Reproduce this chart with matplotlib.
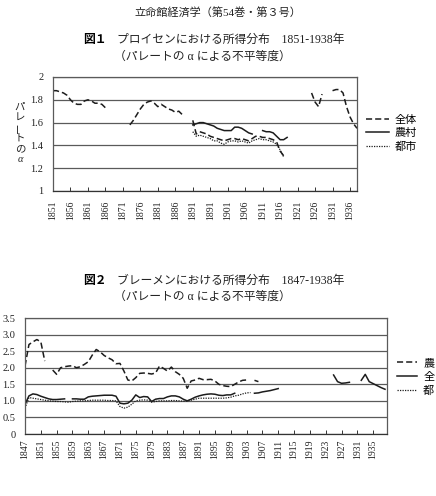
import numpy as np
import matplotlib
matplotlib.use("Agg")
import matplotlib.pyplot as plt

plt.rcParams["font.family"] = ["Liberation Serif", "Noto Sans CJK JP"]

nan = np.nan
W, H = 436, 496

# --- 図1 プロイセン (1851-1938) ---
prussiaTicks = ["1851", "1856", "1861", "1866", "1871", "1876", "1881", "1886", "1891",
                "1891", "1901", "1906", "1911", "1916", "1921", "1926", "1931", "1936"]
prussiaYTicks = [1, 1.2, 1.4, 1.6, 1.8, 2]
prussiaYLabels = ["1", "1.2", "1.4", "1.6", "1.8", "2"]

# 全体, from 1851
prussiaAllStart = 1851
prussiaAll = [1.88, 1.88, 1.87, 1.86, 1.84, 1.80, 1.77, 1.76, 1.76, 1.79,   # 1851-1860
              1.80, 1.79, 1.77, 1.77, 1.76, 1.73, nan, nan, nan, nan,        # 1861-1870
              nan, nan, 1.58, 1.62, 1.67, 1.72, 1.76, 1.78, 1.79, 1.77,      # 1871-1880
              1.74, 1.76, 1.74, 1.72, 1.71, 1.69, 1.70, 1.67, nan, nan,      # 1881-1890
              1.62, 1.50, 1.52, 1.51, 1.50, 1.48, 1.47, 1.46, 1.45, 1.44,    # 1891-1900
              1.45, 1.46, 1.46, 1.45, 1.46, 1.45, 1.44, 1.46, 1.48, 1.48,    # 1901-1910
              1.47, 1.47, 1.46, 1.45, 1.43, 1.35, 1.31, nan, nan, nan,       # 1911-1920
              nan, nan, nan, nan, 1.86, 1.78, 1.74, 1.85, nan, nan,          # 1921-1930
              1.88, 1.89, 1.89, 1.86, 1.74, 1.65, 1.59, 1.55]                # 1931-1938

# 農村, from 1891
prussiaRuralStart = 1891
prussiaRural = [1.58, 1.59, 1.60, 1.60, 1.59, 1.58, 1.57, 1.55, 1.54, 1.53,
                1.53, 1.53, 1.56, 1.56, 1.55, 1.53, 1.51, 1.50, nan, nan,
                1.53, 1.52, 1.52, 1.51, 1.48, 1.45, 1.45, 1.47]

# 都市, from 1891
prussiaUrbanStart = 1891
prussiaUrban = [1.52, 1.48, 1.49, 1.48, 1.47, 1.46, 1.44, 1.44, 1.42, 1.41,
                1.43, 1.44, 1.44, 1.43, 1.44, 1.43, 1.42, 1.44, 1.45, 1.46,
                1.45, 1.45, 1.44, 1.43, 1.41, 1.36, 1.30]

# --- 図2 ブレーメン (1847-1938) ---
bremenTicks = ["1847", "1851", "1855", "1859", "1863", "1867", "1871", "1875", "1879",
               "1883", "1887", "1891", "1895", "1899", "1903", "1907", "1911", "1915",
               "1919", "1923", "1927", "1931", "1935"]
bremenYTicks = [0, 0.5, 1.0, 1.5, 2.0, 2.5, 3.0, 3.5]
bremenYLabels = ["0", "0.5", "1.0", "1.5", "2.0", "2.5", "3.0", "3.5"]

# dashed (農), from 1847
bremenDashStart = 1847
bremenDash = [2.05, 2.70, 2.78, 2.85, 2.78, 2.20, nan, 1.93, 1.80, 2.00,    # 1847-1856
              2.03, 2.05, 2.06, 2.00, 2.03, 2.10, 2.18, 2.38, 2.55, 2.48,   # 1857-1866
              2.37, 2.30, 2.24, 2.12, 2.13, 1.90, 1.63, 1.60, 1.70, 1.83,   # 1867-1876
              1.84, 1.83, 1.81, 1.84, 2.05, 1.98, 1.90, 2.02, 1.88, 1.80,   # 1877-1886
              1.68, 1.38, 1.60, 1.63, 1.68, 1.64, 1.64, 1.65, 1.60, 1.50,   # 1887-1896
              1.46, 1.44, 1.43, 1.50, 1.57, 1.62, 1.63, nan, 1.62, 1.58]    # 1897-1906

# solid (全), from 1847
bremenSolidStart = 1847
bremenSolid = [0.90, 1.15, 1.21, 1.19, 1.14, 1.10, 1.06, 1.04, 1.04, 1.05,  # 1847-1856
               1.06, nan, 1.06, 1.06, 1.05, 1.05, 1.12, 1.14, 1.15, 1.16,   # 1857-1866
               1.17, 1.17, 1.17, 1.14, 0.93, 0.91, 0.93, 1.02, 1.18, 1.10,  # 1867-1876
               1.13, 1.12, 0.98, 1.05, 1.07, 1.07, 1.12, 1.15, 1.15, 1.12,  # 1877-1886
               1.05, 1.00, 1.05, 1.11, 1.15, 1.18, 1.20, 1.21, 1.20, 1.17,  # 1887-1896
               1.16, 1.18, 1.18, 1.23, nan, nan, nan, nan, 1.23, 1.24,      # 1897-1906
               1.27, 1.29, 1.31, 1.34, 1.37, nan, nan, nan, nan, nan,       # 1907-1916
               nan, nan, nan, nan, nan, nan, nan, nan, 1.78, 1.58,          # 1917-1926
               1.53, 1.54, 1.56, nan, nan, 1.62, 1.80, 1.58, 1.52, 1.46,    # 1927-1936
               1.40, 1.35]                                                 # 1937-1938

# dotted (都), from 1847
bremenDotStart = 1847
bremenDot = [0.78, 1.10, 1.08, 1.06, 1.04, 1.02, 1.00, 0.99, 0.98, 0.98,    # 1847-1856
             0.97, 0.96, 0.98, 0.99, 1.00, 1.00, 1.01, 1.02, 1.02, 1.02,    # 1857-1866
             1.02, 1.01, 1.01, 1.00, 0.83, 0.78, 0.81, 0.90, 1.00, 1.02,    # 1867-1876
             1.03, 1.02, 0.96, 0.98, 1.00, 1.00, 1.00, 1.01, 1.01, 1.00,    # 1877-1886
             0.99, 1.00, 1.02, 1.05, 1.08, 1.08, 1.08, 1.08, 1.08, 1.08,    # 1887-1896
             1.08, 1.09, 1.11, 1.15, 1.17, 1.21, 1.24, 1.25]                # 1897-1904

LINE = "#1c1c1c"
GRID = "#5a5a5a"
DASH = (0, (4, 2))
DOT = (0, (1, 1))


def years(start, values):
    return np.arange(start, start + len(values))


def fx(x):
    return x / W


def fy(y):
    return 1 - y / H


def styleAxes(ax, yticks, ylabels, xstart, xstep, xlabels):
    ax.set_yticks(yticks)
    ax.set_yticklabels(ylabels)
    ax.set_xticks([xstart + xstep * i for i in range(len(xlabels))])
    ax.set_xticklabels(xlabels)
    ax.yaxis.grid(True, color=GRID, lw=0.9)
    ax.set_axisbelow(True)
    for s in ax.spines.values():
        s.set_color(GRID)
        s.set_linewidth(0.9)
    ax.spines["bottom"].set_color("#333333")
    ax.tick_params(axis="y", length=0, labelsize=7.5, pad=7, colors="#222222")
    ax.tick_params(axis="x", direction="in", length=3, width=0.7, color="#333333",
                   labelrotation=90, labelsize=7, labelcolor="#222222")


fig = plt.figure(figsize=(W / 100, H / 100), dpi=100)

# header + titles
fig.text(fx(218), fy(12), "立命館経済学（第54巻・第３号）", ha="center", va="center",
         fontsize=8, color="#222222")
fig.text(fx(83), fy(40), "図１", ha="left", va="center", fontsize=8.5, fontweight="bold")
fig.text(fx(117), fy(40), "プロイセンにおける所得分布　1851-1938年", ha="left", va="center",
         fontsize=8.5, color="#222222")
fig.text(fx(114), fy(57), "（パレートの α による不平等度）", ha="left", va="center",
         fontsize=8.5, color="#222222")
fig.text(fx(83), fy(281), "図２", ha="left", va="center", fontsize=8.5, fontweight="bold")
fig.text(fx(117), fy(281), "ブレーメンにおける所得分布　1847-1938年", ha="left", va="center",
         fontsize=8.5, color="#222222")
fig.text(fx(114), fy(297), "（パレートの α による不平等度）", ha="left", va="center",
         fontsize=8.5, color="#222222")

# chart 1
ax1 = fig.add_axes([fx(53), fy(191), 304 / W, 114 / H])
ax1.plot(years(prussiaAllStart, prussiaAll), prussiaAll, color=LINE, lw=1.1,
         linestyle=DASH, label="全体")
ax1.plot(years(prussiaRuralStart, prussiaRural), prussiaRural, color=LINE, lw=1.1,
         label="農村")
ax1.plot(years(prussiaUrbanStart, prussiaUrban), prussiaUrban, color=LINE, lw=0.9,
         linestyle=DOT, label="都市")
ax1.set_xlim(1851, 1938)
ax1.set_ylim(1, 2)
styleAxes(ax1, prussiaYTicks, prussiaYLabels, 1851, 5, prussiaTicks)
ax1.tick_params(axis="x", pad=7)
ax1.legend(loc="center left", bbox_to_anchor=(fx(366), fy(133)), bbox_transform=fig.transFigure,
           frameon=False, fontsize=8, handlelength=2.1, handletextpad=0.45,
           labelspacing=0.3, borderpad=0, borderaxespad=0)

# vertical y label
yChars = ["パ", "レ", "ー", "ト", "の", "α"]
for i, ch in enumerate(yChars):
    fig.text(fx(20), fy(107 + 10.5 * i), ch, ha="center", va="center", fontsize=7.5,
             rotation=90 if ch == "ー" else 0, color="#222222",
             style="italic" if ch == "α" else "normal")

# chart 2
ax2 = fig.add_axes([fx(25), fy(434), 362 / W, 116 / H])
ax2.plot(years(bremenDashStart, bremenDash), bremenDash, color=LINE, lw=1.1,
         linestyle=DASH, label="農")
ax2.plot(years(bremenSolidStart, bremenSolid), bremenSolid, color=LINE, lw=1.1, label="全")
ax2.plot(years(bremenDotStart, bremenDot), bremenDot, color=LINE, lw=0.9,
         linestyle=DOT, label="都")
ax2.set_xlim(1847, 1938.5)
ax2.set_ylim(0, 3.5)
styleAxes(ax2, bremenYTicks, bremenYLabels, 1847, 4, bremenTicks)
ax2.tick_params(axis="x", pad=4)
ax2.legend(loc="center left", bbox_to_anchor=(fx(397), fy(377)), bbox_transform=fig.transFigure,
           frameon=False, fontsize=8, handlelength=1.8, handletextpad=0.55,
           labelspacing=0.35, borderpad=0, borderaxespad=0)

fig.savefig("out.png", dpi=100)
